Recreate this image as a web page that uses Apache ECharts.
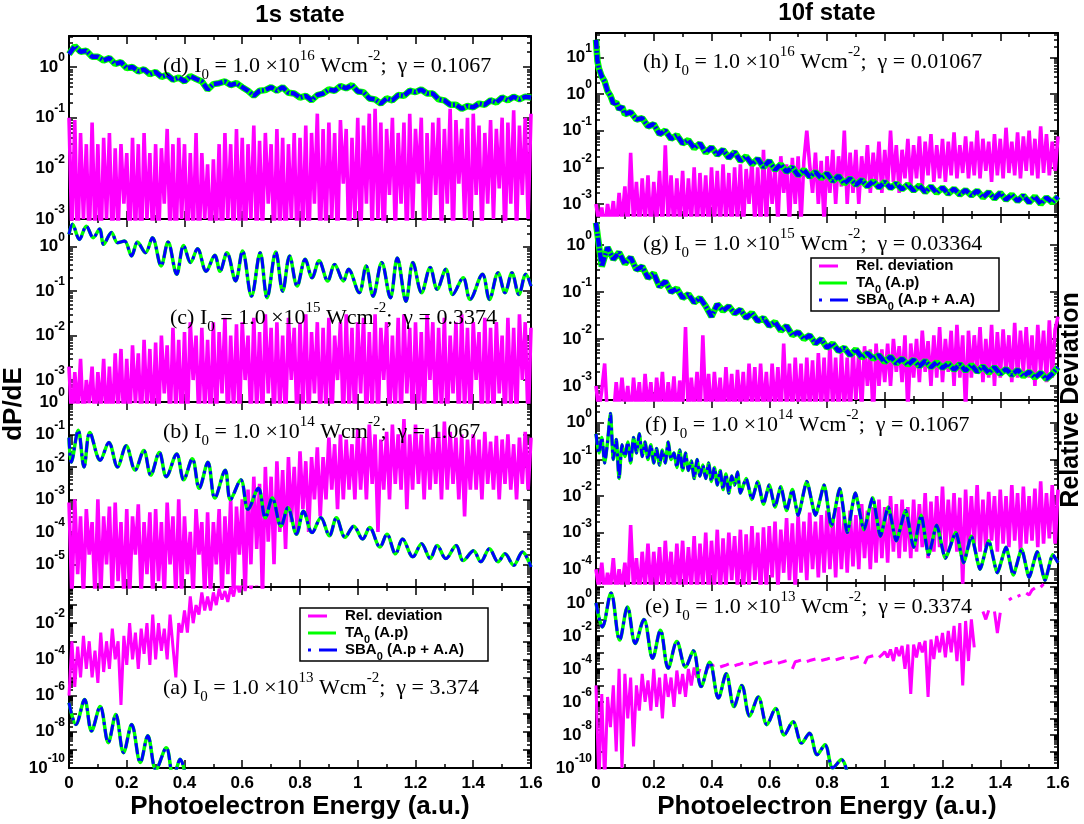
<!DOCTYPE html>
<html><head><meta charset="utf-8">
<script src="https://cdn.jsdelivr.net/npm/echarts@6/dist/echarts.min.js"></script>
<style>html,body{margin:0;padding:0;background:#fff}#c{width:1084px;height:824px}</style>
</head><body><div id="c"></div>
<script>
// ================= DATA =================
// Energies in a.u.; uniform arrays span [0,1.6] (or stated span), pair arrays are [E, dP/dE].

// ---- 1s state, (d) I0=1e16 ----
const d1sTA = [1.8,2.6,2.0,2.1,1.6,1.6,1.35,1.5,1.15,1.25,
 0.95,1.0,0.82,0.9,0.72,0.8,0.64,0.7,0.56,0.62,
 0.52,0.66,0.58,0.52,0.36,0.46,0.48,0.52,0.44,0.48,
 0.4,0.34,0.27,0.34,0.35,0.4,0.34,0.4,0.31,0.3,
 0.25,0.27,0.22,0.28,0.3,0.36,0.34,0.42,0.38,0.44,
 0.33,0.32,0.24,0.23,0.19,0.24,0.22,0.28,0.27,0.34,
 0.32,0.36,0.3,0.3,0.23,0.22,0.18,0.18,0.15,0.17,
 0.16,0.19,0.18,0.22,0.2,0.25,0.22,0.26,0.23,0.26,
 0.25];
const d1sRel = [0.1,5e-4,0.09,2e-4,0.05,1e-3,0.03,3e-4,0.08,5e-4,
 0.03,2e-4,0.04,1e-3,0.05,3e-4,0.025,5e-4,0.03,2e-3,
 0.02,3e-4,0.04,5e-4,0.03,2e-4,0.05,1e-3,0.02,4e-4,
 0.03,3e-4,0.025,2e-3,0.06,5e-4,0.03,2e-4,0.04,1e-3,
 0.03,3e-4,0.02,5e-4,0.05,2e-4,0.02,1e-3,0.012,3e-4,
 0.015,5e-4,0.03,2e-4,0.05,1e-3,0.03,3e-4,0.06,5e-4,
 0.04,2e-4,0.03,1e-3,0.07,3e-4,0.035,5e-4,0.05,2e-3,
 0.03,3e-4,0.06,5e-4,0.04,2e-4,0.03,1e-3,0.05,3e-4,
 0.04,5e-4,0.07,2e-4,0.05,2e-3,0.12,3e-4,0.06,5e-4,
 0.08,1e-3,0.05,3e-4,0.09,5e-3,0.06,2e-4,0.04,1e-3,
 0.1,3e-4,0.07,2e-3,0.12,5e-4,0.15,1e-3,0.08,2e-4,
 0.06,3e-3,0.1,5e-4,0.05,2e-3,0.08,3e-4,0.12,1e-3,
 0.06,5e-3,0.1,2e-4,0.05,1e-3,0.08,3e-3,0.1,5e-4,
 0.06,2e-3,0.15,3e-4,0.09,5e-3,0.06,1e-3,0.1,2e-4,
 0.12,3e-3,0.07,5e-4,0.05,2e-3,0.09,1e-3,0.06,4e-3,
 0.1,3e-4,0.08,2e-3,0.14,5e-4,0.07,3e-3,0.1,1e-3,
 0.12];

// ---- 1s state, (c) I0=1e15 ----
const c1sTA = [[0,1.9],[0.012,3.2],[0.036,1.46],[0.06,2.9],[0.084,1.6],[0.106,2.5],[0.12,1.13],[0.147,2.1],
 [0.168,1.23],[0.192,1.34],[0.217,0.62],[0.237,1.27],[0.265,0.73],[0.289,1.6],[0.319,0.37],[0.343,1.27],
 [0.373,0.24],[0.397,1.07],[0.421,0.44],[0.445,0.9],[0.475,0.28],[0.505,0.64],[0.523,0.28],[0.547,0.73],
 [0.577,0.17],[0.601,0.8],[0.632,0.077],[0.662,0.73],[0.686,0.071],[0.716,0.76],[0.74,0.1],[0.764,0.62],
 [0.79,0.13],[0.818,0.52],[0.842,0.2],[0.866,0.48],[0.896,0.17],[0.92,0.4],[0.95,0.17],[0.968,0.31],
 [1.005,0.092],[1.029,0.37],[1.053,0.077],[1.083,0.44],[1.113,0.071],[1.137,0.56],[1.167,0.059],[1.191,0.44],
 [1.221,0.092],[1.251,0.34],[1.275,0.11],[1.305,0.31],[1.329,0.084],[1.365,0.2],[1.389,0.065],[1.432,0.24],
 [1.456,0.065],[1.486,0.26],[1.51,0.092],[1.534,0.26],[1.558,0.084],[1.582,0.24],[1.6,0.13]];
const c1sRel = [2e-3,1e-4,1.5e-3,2e-4,3e-3,1e-4,1e-3,3e-4,2e-3,1e-4,
 1.5e-3,2e-4,3e-3,1e-4,2e-3,1e-4,4e-3,2e-4,5e-3,1e-4,
 3e-3,1e-4,6e-3,3e-4,4e-3,1e-4,8e-3,2e-4,5e-3,1e-4,
 7e-3,1e-4,1e-2,5e-4,6e-3,1e-4,1.5e-2,2e-4,8e-3,1e-4,
 1.2e-2,1e-4,2e-2,1e-3,1e-2,1e-4,1.5e-2,2e-4,8e-3,1e-4,
 2e-2,1e-4,1.2e-2,5e-4,2.5e-2,1e-4,1e-2,2e-4,1.8e-2,1e-4,
 2e-2,1e-3,1e-2,1e-4,2.5e-2,2e-4,1.2e-2,1e-4,3e-2,5e-4,
 1.5e-2,1e-4,2e-2,2e-4,1e-2,1e-4,2.5e-2,1e-3,1.5e-2,1e-4,
 2e-2,2e-4,3e-2,1e-4,1.2e-2,5e-4,2e-2,1e-4,1.5e-2,2e-4,
 2.5e-2,1e-4,1e-2,1e-3,2e-2,1e-4,3e-2,2e-4,1.5e-2,1e-4,
 2e-2,5e-4,2.5e-2,1e-4,1.2e-2,2e-4,3e-2,1e-4,1.5e-2,1e-3,
 2e-2,1e-4,1e-2,2e-4,2.5e-2,1e-4,3e-2,5e-4,1.5e-2,1e-4,
 2e-2,2e-4,1.2e-2,1e-4,3e-2,1e-3,2e-2,1e-4,1.5e-2,2e-4,
 2.5e-2,1e-4,1e-2,5e-4,2e-2,1e-4,3e-2,2e-4,1.5e-2,1e-4,
 2e-2,1e-3,1.2e-2,1e-4,2.5e-2,2e-4,1.5e-2,1e-4,2e-2,5e-4,
 1e-2,1e-4,2.5e-2,2e-4,1.5e-2,1e-4,3e-2,1e-3,2e-2,1e-4,
 1.5e-2];

// ---- 1s state, (b) I0=1e14 ----
const b1sTA = [[0,0.08],[0.008,0.014],[0.032,0.135],[0.052,0.01],[0.072,0.115],[0.108,0.016],[0.138,0.057],
 [0.168,0.01],[0.198,0.045],[0.229,0.008],[0.259,0.032],[0.283,0.0056],[0.313,0.028],[0.337,0.005],
 [0.373,0.025],[0.397,0.004],[0.427,0.018],[0.451,0.0022],[0.481,0.014],[0.505,0.0011],[0.541,0.0079],
 [0.559,0.00098],[0.595,0.004],[0.62,4.9e-4],[0.656,0.0022],[0.68,2.7e-4],[0.704,0.0011],[0.734,1.5e-4],
 [0.758,5.5e-4],[0.788,8.5e-5],[0.812,4.3e-4],[0.842,9.5e-5],[0.872,2.7e-4],[0.902,7.6e-5],[0.926,2.7e-4],
 [0.956,6.8e-5],[0.986,1.5e-4],[1.017,6e-5],[1.041,1.35e-4],[1.077,3.4e-5],[1.101,8.5e-5],[1.131,2.1e-5],
 [1.155,6e-5],[1.191,1.7e-5],[1.221,4.3e-5],[1.251,1.5e-5],[1.275,3.8e-5],[1.305,1.5e-5],[1.341,3.8e-5],
 [1.365,1.3e-5],[1.401,2.6e-5],[1.426,1.2e-5],[1.456,3e-5],[1.486,1.2e-5],[1.51,2.1e-5],[1.54,9.3e-6],
 [1.57,2.4e-5],[1.6,8.3e-6]];
const b1sRel = [8e-4,1e-6,1e-3,5e-6,3e-4,1e-6,5e-4,2e-5,2e-4,1e-6,
 1e-3,1e-6,3e-4,1e-5,6e-4,1e-6,8e-4,3e-6,2e-4,1e-6,
 5e-4,1e-6,3e-4,2e-5,7e-4,1e-6,2e-4,5e-6,4e-4,1e-6,
 5e-4,3e-6,2e-4,1e-6,8e-4,1e-5,3e-4,1e-6,1e-3,1e-6,
 3e-4,5e-6,1e-4,1e-6,5e-4,2e-5,2e-4,1e-6,4e-4,1e-6,
 2e-4,1e-5,5e-4,1e-6,3e-4,5e-6,1e-3,1e-6,6e-4,2e-5,
 1e-3,1e-6,2e-3,1e-5,5e-3,3e-5,3e-3,1e-6,1e-2,5e-5,
 5e-3,1e-5,1.5e-2,1e-4,8e-3,3e-5,2e-2,2e-4,1e-2,1e-4,
 3e-2,5e-4,1.5e-2,1e-4,2e-2,1e-3,4e-2,3e-4,2e-2,1e-3,
 8e-2,2e-3,5e-2,5e-4,1e-1,1e-3,7e-2,2e-3,5e-2,1e-3,
 1.5e-1,2e-3,8e-2,1e-3,2e-1,3e-3,1e-1,1e-4,7e-2,2e-3,
 1.2e-1,1e-3,2e-1,3e-3,1e-1,2e-3,3e-1,5e-4,1e-1,2e-3,
 2e-1,3e-3,1e-1,1e-3,1.5e-1,2e-3,8e-2,3e-3,1.2e-1,1e-3,
 2.5e-1,2e-3,1.2e-1,3e-3,8e-2,1e-3,1e-1,3e-4,7e-2,2e-3,
 1e-1,2e-3,7e-2,1e-3,1.2e-1,3e-3,6e-2,2e-3,9e-2,1e-3,
 7e-2,3e-3,1e-1,2e-3,5e-2,1e-3,8e-2,3e-3,1.2e-1,2e-3,
 8e-2];

// ---- 1s state, (a) I0=1e13 ----
const a1sTA = [[0,4e-7],[0.024,2.5e-8],[0.054,6e-7],[0.078,1.1e-8],[0.108,2.5e-7],[0.136,2.5e-9],[0.162,9e-8],
 [0.189,7e-10],[0.217,2.5e-8],[0.247,2e-10],[0.273,6e-9],[0.301,8e-11],[0.337,1.3e-9],[0.361,3e-11],
 [0.385,3e-10],[0.41,1e-11]];
const a1sRel = [1e-6,1e-3,3e-6,5e-4,1e-5,2e-3,3e-5,1e-3,1e-5,3e-4,   // spans 0 .. 0.72
 5e-6,3e-3,2e-5,1e-3,3e-5,5e-3,1e-4,1e-3,3e-7,2e-3,
 5e-5,1e-2,1e-4,3e-3,3e-5,5e-3,2e-4,1e-2,5e-5,3e-2,
 1e-4,1e-2,3e-4,5e-3,1e-4,3e-2,5e-4,1e-5,1e-2,3e-3,
 5e-2,3e-3,0.3,1e-2,0.1,3e-2,0.5,5e-2,0.3,0.05,
 0.5,0.1,0.8,0.2,0.6,0.15,1.0,0.3,2,0.5,
 3,0.6,5,0.8,3,1.2,5,0.9,4,2,
 6,3,8];

// ---- 10f state, (h) I0=1e16 ----
const h10fTA = [[0,30],[0.005,8],[0.01,5],[0.015,4.5],[0.02,3],[0.03,2.2],[0.04,1.2],[0.05,0.9],[0.06,0.55],
 [0.07,0.6],[0.08,0.38],[0.09,0.45],[0.1,0.28],[0.12,0.32],[0.14,0.2],[0.16,0.22],[0.18,0.13],[0.2,0.15],
 [0.22,0.08],[0.24,0.1],[0.26,0.06],[0.28,0.075],[0.3,0.045],[0.32,0.055],[0.34,0.033],[0.36,0.045],
 [0.38,0.025],[0.4,0.035],[0.42,0.022],[0.44,0.03],[0.46,0.018],[0.48,0.026],[0.5,0.015],[0.52,0.02],
 [0.54,0.012],[0.56,0.017],[0.58,0.01],[0.6,0.015],[0.62,0.0085],[0.64,0.012],[0.66,0.0075],[0.68,0.01],
 [0.7,0.006],[0.72,0.0085],[0.74,0.0055],[0.76,0.0075],[0.78,0.005],[0.8,0.0068],[0.82,0.0042],[0.84,0.0058],
 [0.86,0.0036],[0.88,0.005],[0.9,0.0033],[0.92,0.0045],[0.94,0.003],[0.96,0.0042],[0.98,0.0028],[1.0,0.004],
 [1.02,0.0027],[1.04,0.0036],[1.06,0.0025],[1.08,0.0034],[1.1,0.0023],[1.12,0.0032],[1.14,0.0021],[1.16,0.003],
 [1.18,0.002],[1.2,0.0028],[1.22,0.0019],[1.24,0.0026],[1.26,0.0018],[1.28,0.0024],[1.3,0.0017],[1.32,0.0023],
 [1.34,0.0015],[1.36,0.0021],[1.38,0.0014],[1.4,0.002],[1.42,0.0013],[1.44,0.0018],[1.46,0.0012],[1.48,0.0017],
 [1.5,0.0011],[1.52,0.0016],[1.54,0.001],[1.56,0.0015],[1.58,0.0011],[1.6,0.0016]];
const h10fRel = [1e-3,3e-4,8e-4,2e-4,1e-3,3e-4,1.2e-3,2e-4,2e-3,3e-4,
 3e-3,2e-4,2.5e-2,3e-4,4e-3,2e-4,5e-3,3e-4,6e-3,2e-4,
 4e-3,3e-4,8e-3,2e-4,4e-2,3e-4,6e-3,2e-4,5e-3,3e-4,
 8e-3,2e-4,5e-3,3e-4,1e-2,2e-4,7e-3,3e-4,6e-3,2e-4,
 1e-2,3e-4,8e-3,2e-4,1.2e-2,3e-4,7e-3,2e-4,1e-2,3e-4,
 1.2e-2,2e-4,9e-3,1e-3,1.5e-2,3e-4,1e-2,2e-4,3e-2,3e-4,
 1.5e-2,1e-3,1e-2,3e-4,2e-2,2e-3,1.2e-2,3e-4,1.8e-2,1e-3,
 2e-2,3e-4,1.5e-2,1e-1,1.2e-2,2e-3,2.5e-2,1e-3,1.5e-2,3e-4,
 2e-2,2e-3,3e-2,1e-3,2e-2,3e-3,1e-1,1e-3,2.5e-2,2e-3,
 3e-2,1e-3,2e-2,3e-3,4e-2,2e-3,2.5e-2,3e-3,5e-2,2e-3,
 3e-2,3e-3,1e-1,4e-3,4e-2,2e-3,3e-2,5e-3,6e-2,3e-3,
 4e-2,5e-3,7e-2,3e-3,5e-2,6e-3,8e-2,4e-3,4e-2,5e-3,
 6e-2,4e-3,5e-2,6e-3,9e-2,5e-3,4e-2,7e-3,7e-2,5e-3,
 5e-2,6e-3,1e-1,5e-3,6e-2,8e-3,5e-2,4e-3,8e-2,6e-3,
 6e-2,5e-3,1.2e-1,7e-3,5e-2,6e-3,9e-2,5e-3,7e-2,8e-3,
 1e-1,6e-3,6e-2,5e-3,1.3e-1,7e-3,8e-2,6e-3,5e-2,8e-3,
 7e-2];

// ---- 10f state, (g) I0=1e15 ----
const g10fTA = [3.0,0.35,0.9,0.5,0.7,0.4,0.55,0.3,0.35,0.2,
 0.25,0.13,0.17,0.1,0.12,0.075,0.09,0.06,0.075,0.05,
 0.03,0.055,0.04,0.05,0.035,0.042,0.028,0.036,0.024,0.028,
 0.019,0.023,0.015,0.019,0.012,0.014,0.01,0.012,0.008,0.01,
 0.0065,0.008,0.0055,0.0065,0.0045,0.006,0.004,0.005,0.0038,0.0045,
 0.0032,0.0042,0.003,0.0038,0.0028,0.0036,0.0026,0.0034,0.0025,0.0032,
 0.0024,0.003,0.0022,0.0029,0.0021,0.0028,0.002,0.0026,0.0019,0.0025,
 0.0018,0.0023,0.0017,0.0022,0.0016,0.002,0.0015,0.0019,0.0014,0.0018,
 0.0025];
const g10fRel = [1e-3,3e-4,8e-4,3e-3,2e-4,3e-4,2e-4,1.2e-3,3e-4,1.5e-3,
 3e-4,1e-3,2e-4,1.5e-3,3e-4,1.2e-3,2e-4,1.8e-3,3e-4,1.2e-3,
 2e-4,1.5e-3,3e-4,2e-3,2e-4,1.2e-3,3e-4,1.6e-3,2e-4,1.3e-3,
 3e-4,1.8e-2,2e-4,1.5e-3,3e-4,2e-3,2e-4,1.2e-2,3e-4,1.8e-3,
 2e-4,2e-3,3e-4,1.5e-3,2e-4,2.5e-3,3e-4,1.8e-3,2e-4,2.2e-3,
 3e-4,2e-3,2e-4,3e-3,3e-4,2.5e-3,2e-4,3e-3,3e-4,2e-3,
 2e-4,3e-3,3e-4,2.5e-3,2e-4,8e-3,3e-4,3e-3,2e-4,4e-3,
 3e-4,3e-3,2e-4,4e-3,3e-4,3.5e-3,2e-4,5e-3,3e-4,4e-3,
 2e-4,8e-3,3e-4,4e-3,2e-4,5e-3,3e-4,4e-3,2e-4,6e-3,
 5e-4,5e-3,3e-4,7e-3,1e-3,6e-3,2e-4,8e-3,1e-3,6e-3,
 1.2e-3,8e-3,1e-3,1e-2,2e-3,7e-3,1.2e-3,1.2e-2,3e-4,8e-3,
 1.5e-3,1e-2,1.2e-3,1.5e-2,2e-3,9e-3,1e-3,1.2e-2,1.5e-3,1.8e-2,
 1.2e-3,1e-2,2e-3,1.5e-2,1e-3,2e-2,1.5e-3,1.2e-2,3e-4,1.5e-2,
 1.5e-3,1.2e-2,2e-3,1.8e-2,1.2e-3,1e-2,1.5e-3,2e-2,1e-3,1.4e-2,
 1.5e-3,1.6e-2,2e-3,1.2e-2,1.2e-3,2.2e-2,1.5e-3,1.5e-2,2e-3,1.8e-2,
 1.5e-3,1.2e-2,1e-3,2e-2,2e-3,1.5e-2,1.2e-3,2.5e-2,1.5e-3,1.6e-2,
 3e-2];

// ---- 10f state, (f) I0=1e14 ----
const f10fTA = [[0,0.5],[0.01,0.15],[0.02,0.4],[0.03,0.08],[0.04,0.3],[0.05,1.8],[0.06,0.1],[0.07,0.35],
 [0.08,0.03],[0.09,0.25],[0.1,0.12],[0.11,0.3],[0.12,0.08],[0.13,0.4],[0.14,0.15],[0.15,0.5],[0.16,0.12],
 [0.17,0.3],[0.18,0.1],[0.19,0.25],[0.2,0.08],[0.21,0.2],[0.22,0.07],[0.23,0.18],[0.24,0.08],[0.25,0.3],
 [0.26,0.1],[0.27,0.15],[0.28,0.06],[0.29,0.18],[0.3,0.05],[0.31,0.15],[0.32,0.05],[0.33,0.09],[0.34,0.03],
 [0.35,0.1],[0.36,0.035],[0.37,0.07],[0.38,0.03],[0.39,0.08],[0.4,0.025],[0.41,0.06],[0.42,0.02],[0.43,0.05],
 [0.44,0.015],[0.45,0.04],[0.46,0.012],[0.47,0.035],[0.48,0.02],[0.49,0.045],[0.5,0.012],[0.52,0.03],
 [0.54,0.008],[0.56,0.025],[0.58,0.006],[0.6,0.02],[0.62,0.005],[0.64,0.018],[0.66,0.004],[0.68,0.015],
 [0.7,0.003],[0.73,0.025],[0.76,0.003],[0.79,0.02],[0.815,0.0015],[0.844,0.016],[0.87,0.001],[0.898,0.012],
 [0.928,0.0012],[0.958,0.009],[0.985,0.0008],[1.012,0.005],[1.04,0.0006],[1.072,0.004],[1.1,0.0004],
 [1.126,0.003],[1.152,0.00025],[1.18,0.0016],[1.21,0.0002],[1.246,0.001],[1.273,0.00015],[1.3,0.0008],
 [1.33,0.0001],[1.36,0.0006],[1.39,0.00008],[1.42,0.0004],[1.445,0.00007],[1.474,0.00035],[1.5,0.00006],
 [1.528,0.0003],[1.555,0.00005],[1.582,0.00025],[1.6,0.00015]];
const f10fRel = [1e-4,3e-5,1.5e-4,2e-5,8e-5,3e-5,2e-4,2e-5,1e-4,3e-5,
 1.5e-4,2e-5,1.6e-3,3e-5,2e-4,2e-5,3e-4,3e-5,5e-4,2e-5,
 3e-4,3e-5,4e-4,2e-5,6e-4,3e-5,3e-4,2e-5,5e-4,3e-5,
 6e-4,2e-5,4e-4,3e-5,8e-4,2e-5,5e-4,3e-5,1e-3,2e-5,
 6e-4,3e-5,1.2e-3,2e-5,7e-4,3e-5,1e-3,5e-5,8e-4,3e-5,
 1.2e-3,2e-5,9e-4,3e-5,1.5e-3,5e-5,1e-3,2e-5,1.4e-3,3e-5,
 1.5e-3,6e-5,2e-3,3e-5,1.2e-3,8e-5,2.5e-3,5e-5,1.8e-3,3e-5,
 3e-3,8e-5,2e-3,5e-5,3.5e-3,1e-4,2e-3,6e-5,3e-3,8e-5,
 4e-3,1e-4,2.5e-3,6e-5,5e-3,1e-4,3e-3,8e-5,4e-3,1.2e-4,
 3e-3,1e-4,6e-3,2e-4,4e-3,1e-4,5e-3,1.5e-4,8e-3,2e-4,
 5e-3,1.5e-4,1e-2,3e-4,6e-3,2e-4,8e-3,3e-4,5e-3,2e-4,
 8e-3,3e-4,6e-3,4e-4,1.2e-2,2e-4,7e-3,3e-4,1e-2,4e-4,
 1.8e-2,3e-4,8e-3,5e-4,1.2e-2,3e-4,9e-3,4e-5,1.5e-2,4e-4,
 1e-2,5e-4,2e-2,3e-4,8e-3,4e-4,1.3e-2,6e-4,1e-2,3e-4,
 1.5e-2,5e-4,1e-2,4e-4,2e-2,6e-4,1.2e-2,3e-4,1.8e-2,5e-4,
 1e-2,6e-4,1.6e-2,4e-4,2.5e-2,5e-4,1.2e-2,7e-4,2e-2,5e-4,
 1.5e-2];

// ---- 10f state, (e) I0=1e13 ----
const e10fTA = [[0,1.0],[0.022,0.035],[0.052,4],[0.082,0.0056],[0.109,0.57],[0.136,0.0035],[0.166,0.1],
 [0.196,4.4e-4],[0.223,0.022],[0.25,1.1e-4],[0.28,0.0045],[0.31,1.3e-4],[0.337,1.26e-3],[0.364,8.5e-6],
 [0.394,2.5e-4],[0.424,1.7e-6],[0.451,5e-5],[0.478,5.2e-7],[0.505,1e-5],[0.532,1.4e-7],[0.562,2e-6],
 [0.592,4.2e-8],[0.622,4e-7],[0.652,1e-8],[0.682,6.3e-8],[0.712,3.2e-9],[0.739,1.26e-8],[0.766,6.3e-10],
 [0.793,2.5e-9],[0.82,1e-10],[0.85,3.2e-10],[0.875,2e-11]];
const e10fRel = [1e-5,1e-11,3e-6,1e-11,2e-6,3e-8,1e-5,1e-9,1e-4,1e-10,
 5e-5,1e-7,3e-5,2e-9,1e-5,3e-7,5e-5,1e-6,2e-5,3e-7,
 1e-4,5e-7,3e-5,1e-7,5e-5,2e-6,3e-5,5e-7,8e-5,3e-6,
 5e-5,2e-6,1e-4,1e-5,1.2e-4,3e-5,1e-4,null,1.1e-4,1.3e-4,
 1.5e-4,1.7e-4,null,1.3e-4,1.5e-4,1.7e-4,2e-4,null,1.5e-4,1.8e-4,
 2e-4,2.3e-4,null,1.8e-4,2e-4,2.3e-4,2.6e-4,null,2e-4,2.3e-4,
 2.6e-4,3e-4,null,2.2e-4,2.5e-4,2.8e-4,3.2e-4,null,1e-4,2.7e-4,
 3e-4,3.4e-4,null,2.8e-4,3.2e-4,3.6e-4,4e-4,null,3.2e-4,3.6e-4,
 4e-4,4.5e-4,null,3.5e-4,4e-4,4.5e-4,5e-4,null,4e-4,4.5e-4,
 5e-4,5.6e-4,null,2e-4,5e-4,5.6e-4,6.3e-4,null,5e-4,7e-4,
 1.1e-3,5e-4,1.5e-3,3e-4,2e-3,6e-4,2.5e-3,1e-4,3e-3,3e-6,
 3e-3,5e-4,4e-3,1e-3,5e-3,2e-6,6e-3,4e-4,1e-2,1e-3,
 1.5e-2,5e-4,2e-2,1e-3,4e-2,3e-4,6e-2,1e-5,8e-2,3e-4,
 1e-1,2e-3,null,null,0.3,0.1,0.35,null,0.3,0.015,
 0.25,null,null,1.5,2,null,2.5,3,null,4,
 3,6,8,null,9,14,null,20,null,null,
 null];

// ---- labels ----
const stateTitles = ['1s state', '10f state'];
const axisTitles = ['dP/dE', 'Relative Deviation', 'Photoelectron Energy (a.u.)'];
const intensityExp = [16, 15, 14, 13];
const panelTags1s = ['d', 'c', 'b', 'a'];
const panelTags10f = ['h', 'g', 'f', 'e'];
const gamma1s = ['0.1067', '0.3374', '1.067', '3.374'];
const gamma10f = ['0.01067', '0.03364', '0.1067', '0.3374'];
const legendNames = ['Rel. deviation', 'TA0 (A.p)', 'SBA0 (A.p + A.A)'];
const xTickStep = 0.2;
// decade exponents that carry a y tick label, per panel
const yLabelExp1s = [[0,-1,-2,-3],[0,-1,-2,-3],[0,-1,-2,-3,-4,-5],[-2,-4,-6,-8,-10]];
const yLabelExp10f = [[1,0,-1,-2,-3],[0,-1,-2,-3],[0,-1,-2,-3,-4],[0,-2,-4,-6,-8,-10]];

// ================= BUILD =================
function spread(vals, x0, x1) {
  const n = vals.length;
  return vals.map((v, i) => [x0 + (x1 - x0) * i / (n - 1), v]);
}
const SANS = 'Liberation Sans, Arial, sans-serif';
const SERIF = 'Liberation Serif, Times New Roman, serif';

const panels = [
  {g:[69,36,462,183],  ymin:1e-3,    ymax:4.1, lab:yLabelExp1s[0], ta:spread(d1sTA,0,1.6), rel:spread(d1sRel,0,1.6), noisy:true, dense:true},
  {g:[69,219,462,183], ymin:3.2e-4,  ymax:4.2, lab:yLabelExp1s[1], ta:c1sTA, rel:spread(c1sRel,0,1.6), smooth:0.35, dense:true},
  {g:[69,402,462,185], ymin:2e-6,    ymax:1,   lab:yLabelExp1s[2], ta:b1sTA, rel:spread(b1sRel,0,1.6), smooth:0.35, dense:true},
  {g:[69,587,462,181], ymin:0.99e-10,ymax:1,   lab:yLabelExp1s[3], ta:a1sTA, rel:spread(a1sRel,0,0.72), smooth:0.35, xl:true},
  {g:[596,33,462,182], ymin:5e-4,    ymax:46,  lab:yLabelExp10f[0], ta:h10fTA, rel:spread(h10fRel,0,1.6), noisy:true, dense:true},
  {g:[596,215,462,185],ymin:5e-4,    ymax:4.4, lab:yLabelExp10f[1], ta:spread(g10fTA,0,1.6), rel:spread(g10fRel,0,1.6), noisy:true, dense:true},
  {g:[596,400,462,183],ymin:4.2e-5,  ymax:4.2, lab:yLabelExp10f[2], ta:f10fTA, rel:spread(f10fRel,0,1.6), smooth:0.2, dense:true},
  {g:[596,583,462,185],ymin:0.99e-10,ymax:16,  lab:yLabelExp10f[3], ta:e10fTA, rel:spread(e10fRel,0,1.6), smooth:0.35, xl:true}
];

function decades(min, max, mults) {
  const out = [];
  for (let e = Math.floor(Math.log10(min)) - 1; e <= Math.ceil(Math.log10(max)); e++) {
    for (const m of mults) {
      const v = m * Math.pow(10, e);
      if (v >= min * 0.999 && v <= max * 1.001) out.push(v);
    }
  }
  return out;
}

const grid = [], xAxis = [], yAxis = [], series = [];
const black = '#000';
panels.forEach((p, i) => {
  grid.push({left:p.g[0], top:p.g[1], width:p.g[2], height:p.g[3]});
  ['bottom','top'].forEach(pos => {
    xAxis.push({type:'value', gridIndex:i, min:0, max:1.6, interval:xTickStep, position:pos,
      axisLine:{show:true, onZero:false, lineStyle:{color:black, width:2}},
      axisTick:{show:true, inside:true, length:8, lineStyle:{color:black, width:1.5}},
      minorTick:{show:true, splitNumber:2, length:4, lineStyle:{color:black, width:1.5}},
      splitLine:{show:false},
      axisLabel:{show: !!p.xl && pos === 'bottom', color:black, fontFamily:SANS, fontWeight:'bold', fontSize:17, margin:7}
    });
  });
  const majors = decades(p.ymin, p.ymax, [1]);
  const minors = decades(p.ymin, p.ymax, [2,3,4,5,6,7,8,9]);
  const labelVals = p.lab.map(e => Math.pow(10, e));
  ['left','right'].forEach(pos => {
    [true, false].forEach(major => {
      const ax = {type:'log', logBase:10, gridIndex:i, min:p.ymin, max:p.ymax, position:pos,
        axisLine:{show:major, onZero:false, lineStyle:{color:black, width:2}},
        axisTick:{show:true, inside:true, length: major ? 8 : 4, customValues: major ? majors : minors,
                  lineStyle:{color:black, width:1.5}},
        minorTick:{show:false}, splitLine:{show:false}, minorSplitLine:{show:false},
        axisLabel:{show:false}
      };
      if (major && pos === 'left') {
        ax.axisLabel = {show:true, customValues:labelVals, margin:4, showMinLabel:true, showMaxLabel:true,
          formatter: v => '{b|10}{s|' + Math.round(Math.log10(v)) + '}',
          rich:{
            b:{fontFamily:SANS, fontWeight:'bold', fontSize:17, lineHeight:30, color:black},
            s:{fontFamily:SANS, fontWeight:'bold', fontSize:12, lineHeight:21, verticalAlign:'top', color:black}
          }};
      }
      yAxis.push(ax);
    });
  });
  const common = {type:'line', xAxisIndex:2*i, yAxisIndex:4*i, symbol:'none', showSymbol:false,
                  animation:false, silent:true, emphasis:{disabled:true}, connectNulls:false, clip:true};
  series.push(Object.assign({}, common, {name:legendNames[0], data:p.rel, z:1,
    lineStyle:{color:'#ff00ff', width: p.dense ? 3.6 : 3}}));
  series.push(Object.assign({}, common, {name:legendNames[1], data:p.ta, z:2, smooth:p.smooth || false,
    lineStyle:{color:'#00ff00', width: p.noisy ? 6.5 : 3.5}}));
  series.push(Object.assign({}, common, {name:legendNames[2], data:p.ta, z:3, smooth:p.smooth || false,
    lineStyle:{color:'#0000ff', width: p.noisy ? 4.5 : 3, type: p.noisy ? [9,2,2,2] : [11,4,3,4]}}));
});

// ---------- annotations ----------
function noteText(tag, exp, gamma) {
  return '{n|(' + tag + ') I}{sub|0}{n| = 1.0 \u00d710}{sup|' + exp + '}{n| Wcm}{sup|-2}{n|;  \u03b3 = ' + gamma + '}';
}
const noteRich = {
  n:{fontFamily:SERIF, fontSize:22, lineHeight:34, fill:black},
  sub:{fontFamily:SERIF, fontSize:15, lineHeight:12, verticalAlign:'bottom', fill:black},
  sup:{fontFamily:SERIF, fontSize:15, lineHeight:18, verticalAlign:'top', fill:black}
};
const notePos1s = [[163,66],[170,318],[163,432],[163,688]];
const notePos10f = [[643,62],[643,244],[645,425],[645,607]];
const graphic = [];
for (let k = 0; k < 4; k++) {
  graphic.push({type:'text', x:notePos1s[k][0], y:notePos1s[k][1], z:50,
    style:{text:noteText(panelTags1s[k], intensityExp[k], gamma1s[k]), rich:noteRich, verticalAlign:'middle', align:'left'}});
  graphic.push({type:'text', x:notePos10f[k][0], y:notePos10f[k][1], z:50,
    style:{text:noteText(panelTags10f[k], intensityExp[k], gamma10f[k]), rich:noteRich, verticalAlign:'middle', align:'left'}});
}
const titleStyle = {fontFamily:SANS, fontWeight:'bold', fill:black, align:'center', verticalAlign:'middle'};
graphic.push({type:'text', x:300, y:15, style:Object.assign({text:stateTitles[0], fontSize:24}, titleStyle)});
graphic.push({type:'text', x:827, y:13, style:Object.assign({text:stateTitles[1], fontSize:24}, titleStyle)});
graphic.push({type:'text', x:300, y:807, style:Object.assign({text:axisTitles[2], fontSize:26}, titleStyle)});
graphic.push({type:'text', x:827, y:807, style:Object.assign({text:axisTitles[2], fontSize:26}, titleStyle)});
graphic.push({type:'text', x:14, y:404, rotation:Math.PI/2, style:Object.assign({text:axisTitles[0], fontSize:26}, titleStyle)});
graphic.push({type:'text', x:1071, y:400, rotation:Math.PI/2, style:Object.assign({text:axisTitles[1], fontSize:25}, titleStyle)});

// legends
function legend(x, y) {
  const tr = {t:{fontFamily:SANS, fontWeight:'bold', fontSize:15, lineHeight:24, fill:black},
              sub:{fontFamily:SANS, fontWeight:'bold', fontSize:11, lineHeight:10, verticalAlign:'bottom', fill:black}};
  return {type:'group', x:x, y:y, z:60, children:[
    {type:'rect', shape:{x:0, y:0, width:188, height:53}, style:{fill:'#fff', stroke:black, lineWidth:1.5}},
    {type:'line', shape:{x1:8, y1:8, x2:27, y2:8}, style:{stroke:'#ff00ff', lineWidth:3}},
    {type:'line', shape:{x1:8, y1:25, x2:36, y2:25}, style:{stroke:'#00ff00', lineWidth:3}},
    {type:'line', shape:{x1:8, y1:42, x2:11, y2:42}, style:{stroke:'#0000ff', lineWidth:3}},
    {type:'line', shape:{x1:19, y1:42, x2:37, y2:42}, style:{stroke:'#0000ff', lineWidth:3}},
    {type:'text', x:45, y:8, style:{text:'{t|' + legendNames[0] + '}', rich:tr, verticalAlign:'middle'}},
    {type:'text', x:45, y:25, style:{text:'{t|TA}{sub|0}{t| (A.p)}', rich:tr, verticalAlign:'middle'}},
    {type:'text', x:45, y:42, style:{text:'{t|SBA}{sub|0}{t| (A.p + A.A)}', rich:tr, verticalAlign:'middle'}}
  ]};
}
graphic.push(legend(811, 258));
graphic.push(legend(300, 608));

const chart = echarts.init(document.getElementById('c'), null, {renderer:'canvas'});
chart.setOption({
  animation:false,
  backgroundColor:'#fff',
  textStyle:{fontFamily:SANS},
  grid, xAxis, yAxis, series, graphic
});
</script></body></html>
